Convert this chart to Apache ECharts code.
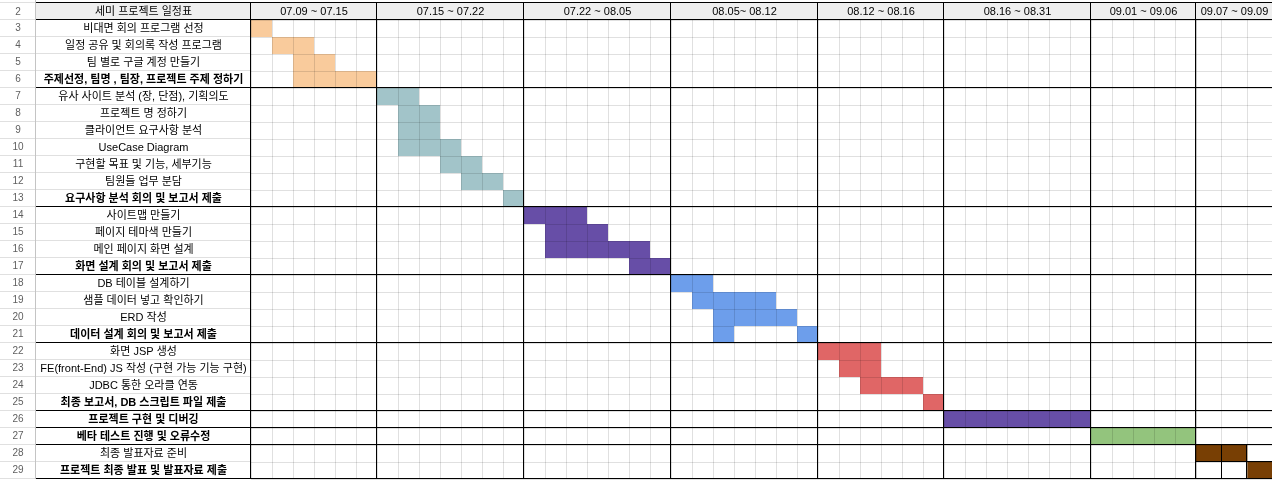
<!DOCTYPE html>
<html>
<head>
<meta charset="utf-8">
<script src="https://cdn.jsdelivr.net/npm/echarts@6/dist/echarts.min.js"></script>
<style>
html, body { margin: 0; padding: 0; background: #ffffff; }
#chart { width: 1272px; height: 480px; }
</style>
</head>
<body>
<div id="chart"></div>
<script>
// ---------------- data ----------------
const titleLabel = '세미 프로젝트 일정표';
const periodLabels = ['07.09 ~ 07.15', '07.15 ~ 07.22', '07.22 ~ 08.05', '08.05~ 08.12',
                      '08.12 ~ 08.16', '08.16 ~ 08.31', '09.01 ~ 09.06', '09.07 ~ 09.09'];
const periodDays = [6, 7, 7, 7, 6, 7, 5, 3];
const rowNumbers = ['2', '3', '4', '5', '6', '7', '8', '9', '10', '11', '12', '13', '14', '15', '16',
                    '17', '18', '19', '20', '21', '22', '23', '24', '25', '26', '27', '28', '29'];
const tasks = [
  '비대면 회의 프로그램 선정',
  '일정 공유 및 회의록 작성 프로그램',
  '팀 별로 구글 계정 만들기',
  '주제선정, 팀명 , 팀장, 프로젝트 주제 정하기',
  '유사 사이트 분석 (장, 단점), 기획의도',
  '프로젝트 명 정하기',
  '클라이언트 요구사항 분석',
  'UseCase Diagram',
  '구현할 목표 및 기능, 세부기능',
  '팀원들 업무 분담',
  '요구사항 분석 회의 및 보고서 제출',
  '사이트맵 만들기',
  '페이지 테마색 만들기',
  '메인 페이지 화면 설계',
  '화면 설계 회의 및 보고서 제출',
  'DB 테이블 설계하기',
  '샘플 데이터 넣고 확인하기',
  'ERD 작성',
  '데이터 설계 회의 및 보고서 제출',
  '화면 JSP 생성',
  'FE(front-End) JS 작성 (구현 가능 기능 구현)',
  'JDBC 통한 오라클 연동',
  '최종 보고서, DB 스크립트 파일 제출',
  '프로젝트 구현 및 디버깅',
  '베타 테스트 진행 및 오류수정',
  '최종 발표자료 준비',
  '프로젝트 최종 발표 및 발표자료 제출'
];
const taskBold = [0, 0, 0, 1, 0, 0, 0, 0, 0, 0, 1, 0, 0, 0, 1, 0, 0, 0, 1, 0, 0, 0, 1, 1, 1, 0, 1];
const groupSizes = [4, 7, 4, 4, 4, 1, 1, 2];
// [task index, first day column, number of day columns]
const bars = [
  [0, 0, 1], [1, 1, 2], [2, 2, 2], [3, 2, 4],
  [4, 6, 2], [5, 7, 2], [6, 7, 2], [7, 7, 3], [8, 9, 2], [9, 10, 2], [10, 12, 1],
  [11, 13, 3], [12, 14, 3], [13, 14, 5], [14, 18, 2],
  [15, 20, 2], [16, 21, 4], [17, 22, 4], [18, 22, 1], [18, 26, 1],
  [19, 27, 3], [20, 28, 2], [21, 29, 3], [22, 32, 1],
  [23, 33, 7],
  [24, 40, 5],
  [25, 45, 2], [26, 47, 1]
];

// ---------------- styles / layout ----------------
const groupColors = ['#f9cb9c', '#a2c4c9', '#674ea7', '#6d9eeb', '#e06666', '#674ea7', '#93c47d', '#783f04'];
const FONT = '"Liberation Sans", Arial, "Noto Sans CJK KR", sans-serif';
const GRID_LINE = 'rgba(0,0,0,0.12)';
const LEFT_LINE = '#e0e0e0';
const HEADER_BG = '#efefef';
const ROWNUM_W = 36, LABEL_W = 215, ROW_H = 17, DAY_W = 21, HEADER_TOP = 3;

const periodStarts = periodDays.reduce((acc, n) => { acc.push(acc[acc.length - 1] + n); return acc; }, [0]);
const groupEnds = groupSizes.reduce((acc, n) => { acc.push(acc[acc.length - 1] + n); return acc; }, [0]);
const taskGroup = tasks.map((_, i) => groupEnds.findIndex(e => e > i) - 1);
const splitDay = periodStarts[periodStarts.length - 2];
const totalDays = periodStarts[periodStarts.length - 1];

const gridTop = HEADER_TOP + ROW_H;
const gridH = ROW_H * tasks.length;
const leftA = ROWNUM_W + LABEL_W;
const widthA = DAY_W * splitDay;
const leftB = leftA + widthA;
const widthB = 1273 - leftB;

const snap = v => Math.round(v) - 0.5;

function textEl(str, x, y, size, color, weight) {
  return {
    type: 'text', x: x, y: y,
    style: {
      text: str, fill: color, fontSize: size, fontFamily: FONT, fontWeight: weight || 'normal',
      align: 'center', verticalAlign: 'middle', textAlign: 'center', textVerticalAlign: 'middle'
    }
  };
}
function lineEl(x1, y1, x2, y2, color) {
  return { type: 'line', shape: { x1: x1, y1: y1, x2: x2, y2: y2 }, style: { stroke: color, lineWidth: 1 } };
}

function renderFrame(params, api) {
  const cs = params.coordSys;
  const h = api.size([0, 1])[1];
  const top = cs.y - h;
  const right = cs.x + cs.width;
  const ch = [];
  ch.push({ type: 'rect', shape: { x: ROWNUM_W, y: top, width: right - ROWNUM_W, height: h }, style: { fill: HEADER_BG } });
  for (let k = -1; k <= tasks.length; k++) {
    const y = snap(cs.y + k * h);
    ch.push(lineEl(0, y, cs.x, y, LEFT_LINE));
  }
  ch.push(lineEl(snap(ROWNUM_W), 0, snap(ROWNUM_W), cs.y + cs.height, '#c4c4c4'));
  ch.push(textEl(titleLabel, cs.x - LABEL_W / 2, top + h / 2 + 0.5, 11, '#000'));
  ch.push(textEl(rowNumbers[0], ROWNUM_W / 2, top + h / 2 + 0.5, 10, '#5f5f5f'));
  return { type: 'group', children: ch };
}

function renderHeader(params, api) {
  const cs = params.coordSys;
  const h = api.size([0, 1])[1];
  const x0 = api.coord([api.value(0), 0])[0];
  const x1 = api.coord([api.value(1), 0])[0];
  const top = cs.y - h;
  return {
    type: 'group',
    children: [
      { type: 'rect', shape: { x: x0, y: top, width: x1 - x0, height: h }, style: { fill: HEADER_BG } },
      textEl(periodLabels[api.value(2)], (x0 + x1) / 2, top + h / 2 + 0.5, 11, '#000')
    ]
  };
}

function renderBar(params, api) {
  const row = api.value(0), start = api.value(1), len = api.value(2), g = api.value(3);
  const p0 = api.coord([start, row]);
  const p1 = api.coord([start + len, row]);
  const h = api.size([0, 1])[1];
  return {
    type: 'rect',
    shape: { x: p0[0], y: p0[1] - h / 2, width: p1[0] - p0[0], height: h },
    style: { fill: groupColors[g] }
  };
}

function makeBorderRenderer(dMin, dMax, fromX, boxLastGroup) {
  return function (params, api) {
    const cs = params.coordSys;
    const h = api.size([0, 1])[1];
    const top = cs.y - h;
    const bottom = cs.y + cs.height;
    const right = cs.x + cs.width;
    const x0 = fromX === null ? cs.x : fromX;
    const ch = [];
    ch.push(lineEl(x0, snap(top), right, snap(top), '#000'));
    groupEnds.forEach(k => {
      const y = snap(cs.y + k * h);
      ch.push(lineEl(x0, y, right, y, '#000'));
    });
    periodStarts.forEach(d => {
      if (d >= dMin && d <= dMax) {
        const x = snap(api.coord([d, 0])[0]);
        ch.push(lineEl(x, top, x, bottom, '#000'));
      }
    });
    if (boxLastGroup) {
      const gFirst = groupEnds[groupEnds.length - 2];
      const gLast = groupEnds[groupEnds.length - 1];
      const yA = cs.y + gFirst * h, yB = cs.y + gLast * h;
      for (let d = dMin + 1; d < dMax; d++) {
        const x = snap(api.coord([d, 0])[0]);
        ch.push(lineEl(x, yA, x, yB, '#000'));
      }
      for (let k = gFirst + 1; k < gLast; k++) {
        const y = snap(cs.y + k * h);
        ch.push(lineEl(cs.x, y, right, y, '#000'));
      }
    }
    return { type: 'group', children: ch };
  };
}

const barsA = bars.filter(b => b[1] < splitDay).map(b => [b[0], b[1], b[2], taskGroup[b[0]]]);
const barsB = bars.filter(b => b[1] >= splitDay).map(b => [b[0], b[1], b[2], taskGroup[b[0]]]);
const headerA = [], headerB = [];
periodLabels.forEach((_, i) => {
  const item = [periodStarts[i], periodStarts[i + 1], i, 0];
  (periodStarts[i] < splitDay ? headerA : headerB).push(item);
});

const labelRich = {
  n: { fontSize: 11, fontFamily: FONT, color: '#000', fontWeight: 'normal' },
  b: { fontSize: 11, fontFamily: FONT, color: '#000', fontWeight: 'bold' }
};

function xAxisCfg(gridIndex, min, max) {
  return {
    type: 'value', gridIndex: gridIndex, min: min, max: max, interval: 1, z: 5,
    axisLine: { show: false }, axisTick: { show: false }, axisLabel: { show: false },
    splitLine: { show: true, lineStyle: { color: GRID_LINE, width: 1 } }
  };
}

const option = {
  animation: false,
  backgroundColor: '#ffffff',
  grid: [
    { left: leftA, top: gridTop, width: widthA, height: gridH, containLabel: false, outerBoundsMode: 'none' },
    { left: leftB, top: gridTop, width: widthB, height: gridH, containLabel: false, outerBoundsMode: 'none' }
  ],
  xAxis: [xAxisCfg(0, 0, splitDay), xAxisCfg(1, splitDay, totalDays)],
  yAxis: [
    {
      type: 'category', gridIndex: 0, data: tasks, inverse: true, position: 'left', z: 5,
      axisLine: { show: false, onZero: false }, axisTick: { show: false },
      axisLabel: {
        interval: 0, margin: LABEL_W / 2, align: 'center', fontSize: 11, fontFamily: FONT, color: '#000',
        formatter: (v, i) => (taskBold[i] ? '{b|' + v + '}' : '{n|' + v + '}'),
        rich: labelRich
      },
      splitLine: { show: true, interval: 0, lineStyle: { color: GRID_LINE, width: 1 } }
    },
    {
      type: 'category', gridIndex: 0, data: rowNumbers.slice(1), inverse: true, position: 'left', offset: 0,
      axisLine: { show: false, onZero: false }, axisTick: { show: false },
      axisLabel: { interval: 0, margin: LABEL_W + ROWNUM_W / 2, align: 'center', fontSize: 10, fontFamily: FONT, color: '#5f5f5f' },
      splitLine: { show: false }
    },
    {
      type: 'category', gridIndex: 1, data: tasks, inverse: true, position: 'left', z: 5,
      axisLine: { show: false, onZero: false }, axisTick: { show: false }, axisLabel: { show: false },
      splitLine: { show: true, interval: 0, lineStyle: { color: GRID_LINE, width: 1 } }
    }
  ],
  series: [
    { type: 'custom', name: 'frame', xAxisIndex: 0, yAxisIndex: 0, z: 1, silent: true,
      renderItem: renderFrame, data: [[0, 0]], encode: { x: 0, y: 1 } },
    { type: 'custom', name: 'headerA', xAxisIndex: 0, yAxisIndex: 0, z: 2, silent: true,
      renderItem: renderHeader, data: headerA, encode: { x: [0, 1], y: 3 } },
    { type: 'custom', name: 'headerB', xAxisIndex: 1, yAxisIndex: 2, z: 2, silent: true,
      renderItem: renderHeader, data: headerB, encode: { x: [0, 1], y: 3 } },
    { type: 'custom', name: 'barsA', xAxisIndex: 0, yAxisIndex: 0, z: 2, silent: true,
      renderItem: renderBar, data: barsA, encode: { x: 1, y: 0 } },
    { type: 'custom', name: 'barsB', xAxisIndex: 1, yAxisIndex: 2, z: 2, silent: true,
      renderItem: renderBar, data: barsB, encode: { x: 1, y: 0 } },
    { type: 'custom', name: 'bordersA', xAxisIndex: 0, yAxisIndex: 0, z: 10, silent: true,
      renderItem: makeBorderRenderer(0, splitDay, ROWNUM_W, false), data: [[0, 0]], encode: { x: 0, y: 1 } },
    { type: 'custom', name: 'bordersB', xAxisIndex: 1, yAxisIndex: 2, z: 10, silent: true,
      renderItem: makeBorderRenderer(splitDay, totalDays, null, true), data: [[splitDay, 0]], encode: { x: 0, y: 1 } }
  ]
};

const chart = echarts.init(document.getElementById('chart'), null, { renderer: 'canvas' });
chart.setOption(option);
</script>
</body>
</html>
